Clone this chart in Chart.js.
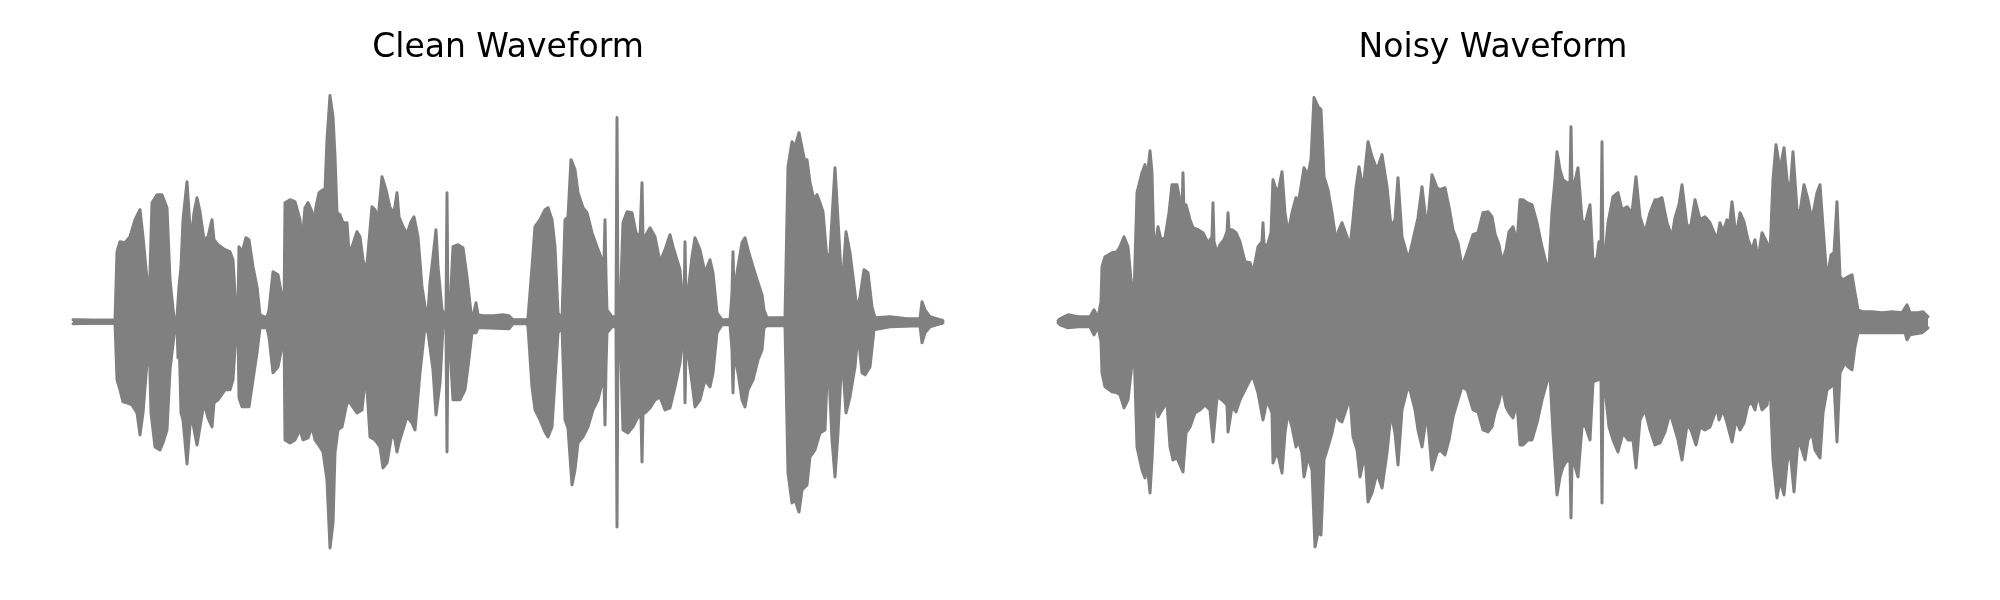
<!DOCTYPE html>
<html>
<head>
<meta charset="utf-8">
<script src="https://cdn.jsdelivr.net/npm/chart.js@4.4.1/dist/chart.umd.min.js"></script>
<style>
  html, body { margin: 0; padding: 0; background: #fff; }
  #wrap { position: relative; width: 2000px; height: 600px; }
  .panel { position: absolute; top: 0; width: 1000px; height: 600px; }
</style>
</head>
<body>
<div id="wrap">
  <div class="panel" style="left:0"><canvas id="cleanChart" width="1000" height="600"></canvas></div>
  <div class="panel" style="left:1000px"><canvas id="noisyChart" width="1000" height="600"></canvas></div>
</div>
<script>
// Waveform envelopes: [time, amplitude] pairs
const cleanUpper = [
  [0,2],[20,1.5],[42,1.5],[44,70],[47,80],[52,79],[57,85],[62,102],[67,112],[70,85],[74,42],[76,15],
  [79,119],[84,127],[89,127],[94,114],[97,42],[101,4],[104,5],[106,35],[108,55],[110,102],[114,140],
  [118,79],[121,109],[124,124],[127,110],[131,82],[135,85],[139,102],[141,82],[145,77],[152,72],[157,70],
  [160,62],[163,12],[165,12],[166,75],[169,69],[173,84],[176,82],[180,55],[184,35],[187,7],[194,4],[196,12],
  [200,50],[205,47],[209,25],[211,9],
  [212,119],[217,122],[222,120],[227,102],[229,79],[232,114],[235,119],[239,110],[240,90],[243,115],
  [246,129],[250,132],[252,132],[254,182],[257,226],[260,205],[262,165],[264,109],[267,107],[270,99],
  [274,99],[276,69],[279,75],[284,90],[287,85],[290,62],[293,49],[295,69],[299,115],[302,112],[305,102],
  [309,145],[313,132],[317,114],[321,109],[324,129],[326,105],[330,95],[334,88],[338,100],[341,105],
  [345,85],[349,35],[353,9],[355,9],[357,39],[360,65],[363,92],[365,55],[369,12],[372,6],[373,6],[374,129],
  [375,6],[377,12],[380,75],[385,77],[390,74],[394,45],[398,9],[400,5],[403,19],[405,7],[410,6],[420,6],
  [430,7],[436,6],[440,2],[454,2],
  [455,4],[459,55],[462,95],[467,102],[472,112],[475,114],[479,102],[482,75],[485,9],[489,2],[492,102],
  [495,105],[498,162],[502,152],[505,129],[510,114],[514,109],[519,89],[524,75],[529,62],[531,60],[532,102],
  [533,45],[534,12],[539,5],[543,5],[544,204],[545,5],[547,9],[550,99],[554,110],[559,109],[563,89],
  [567,85],[569,139],[570,85],[572,85],[577,94],[582,85],[587,60],[592,72],[597,87],[600,75],[607,52],
  [610,15],[611,15],[612,80],[613,20],[615,29],[619,65],[622,84],[627,72],[632,49],[637,62],[640,49],
  [644,9],[649,2],[657,2],
  [659,29],[660,70],[661,29],[665,55],[669,79],[672,84],[675,72],[680,55],[685,39],[689,27],[691,12],
  [694,4],[712,4],[715,155],[719,180],[722,175],[726,189],[729,174],[732,159],[734,162],[737,139],
  [741,122],[744,127],[747,119],[750,110],[754,62],[757,69],[760,120],[762,154],[765,102],[769,32],
  [773,90],[777,69],[780,45],[784,12],[787,25],[791,52],[795,49],[799,15],[802,4],[817,5],[834,3],
  [847,3],[849,20],[852,12],[857,5],[870,1]
];
const cleanLower = [
  [0,-2],[20,-1.5],[42,-1.5],[44,-58],[47,-68],[50,-80],[54,-81],[59,-83],[64,-91],[67,-113],[70,-91],
  [74,-41],[76,-11],[78,-91],[82,-125],[87,-128],[90,-121],[94,-108],[97,-48],[102,-5],[104,-5],[105,-36],
  [106,-12],[108,-91],[110,-98],[114,-142],[118,-91],[124,-123],[127,-105],[131,-81],[135,-96],[139,-105],
  [141,-81],[145,-78],[152,-68],[157,-68],[160,-58],[163,-11],[165,-8],[166,-76],[169,-85],[173,-85],
  [176,-85],[180,-58],[184,-31],[187,-6],[194,-6],[196,-15],[200,-51],[205,-45],[209,-25],[211,-6],
  [212,-118],[217,-121],[222,-118],[227,-108],[230,-118],[235,-116],[239,-105],[242,-118],[247,-125],
  [250,-130],[254,-158],[257,-226],[260,-201],[262,-131],[265,-108],[269,-105],[274,-81],[277,-81],
  [284,-91],[289,-88],[293,-51],[297,-115],[302,-118],[307,-125],[310,-146],[314,-141],[319,-111],
  [322,-118],[324,-130],[326,-121],[334,-95],[339,-101],[342,-108],[347,-51],[352,-5],[355,-11],[360,-48],
  [363,-93],[367,-61],[370,-5],[373,-6],[374,-130],[375,-6],[377,-25],[380,-78],[387,-78],[392,-68],
  [395,-45],[399,-11],[403,-11],[405,-6],[410,-6],[436,-7],[440,-2],[454,-2],
  [455,-5],[459,-65],[462,-88],[467,-98],[472,-110],[475,-115],[479,-105],[482,-58],[485,-11],[489,-5],
  [492,-98],[495,-106],[499,-163],[502,-148],[505,-121],[510,-115],[515,-105],[520,-88],[525,-78],
  [529,-61],[531,-60],[532,-103],[533,-45],[534,-11],[539,-5],[543,-5],[544,-205],[545,-5],[547,-11],
  [550,-108],[555,-111],[560,-105],[565,-95],[568,-95],[569,-140],[570,-92],[572,-91],[577,-86],[582,-78],
  [587,-75],[592,-88],[597,-86],[602,-65],[607,-41],[610,-11],[611,-11],[612,-81],[613,-25],[615,-31],
  [619,-61],[622,-85],[627,-78],[632,-58],[637,-65],[640,-51],[644,-11],[649,-3],[657,-3],
  [659,-28],[660,-71],[661,-31],[665,-51],[669,-78],[672,-85],[675,-68],[680,-58],[685,-38],[689,-28],
  [691,-6],[694,-4],[712,-4],[715,-151],[719,-181],[722,-178],[726,-190],[729,-168],[734,-163],[737,-135],
  [742,-128],[747,-111],[752,-108],[755,-31],[759,-118],[762,-155],[765,-111],[769,-31],[773,-91],
  [777,-75],[782,-45],[785,-11],[789,-51],[792,-53],[797,-45],[801,-8],[817,-5],[847,-4],[849,-21],
  [852,-11],[857,-5],[870,-1]
];
const noisyUpper = [
  [0,1],[2,3],[10,7],[20,5],[32,5],[36,12],[40,4],[43,20],[44,55],[47,65],[54,69],[59,70],[62,75],[66,85],
  [70,75],[73,42],[76,25],[79,129],[84,149],[87,157],[89,142],[92,171],[94,149],[96,69],[100,95],[103,82],
  [107,84],[111,109],[114,137],[119,137],[124,110],[125,149],[126,110],[128,117],[132,102],[135,94],
  [140,92],[145,89],[150,79],[154,85],[155,119],[156,80],[159,69],[162,77],[166,82],[169,90],[170,109],
  [171,92],[174,92],[178,89],[182,80],[187,60],[192,59],[195,49],[200,75],[204,80],[205,99],[206,78],
  [209,75],[213,89],[215,142],
  [217,135],[220,129],[224,150],[227,109],[230,89],[234,109],[238,124],[240,117],[243,135],[246,154],
  [250,147],[253,162],[256,224],[260,215],[263,212],[266,145],[270,132],[274,109],[278,82],[281,92],
  [284,99],[289,85],[292,75],[295,102],[298,134],[301,155],[305,132],[310,180],[314,165],[319,152],
  [324,167],[329,135],[333,95],[337,102],[340,144],[344,85],[349,67],[351,65],[355,82],[360,104],
  [364,135],[369,92],[374,147],[379,134],[382,132],[387,134],[391,115],[395,92],[400,79],[404,55],
  [409,69],[415,87],[420,89],[425,109],[430,110],[434,105],[437,88],
  [441,77],[444,60],[448,72],[451,90],[455,95],[459,79],[462,122],[465,122],[469,119],[474,117],[479,99],
  [484,75],[488,59],[491,54],[494,110],[497,142],[499,170],[502,152],[505,142],[509,139],[512,139],
  [513,195],[514,135],[515,132],[520,154],[524,102],[527,97],[532,117],[535,60],[539,64],[541,80],
  [543,80],[544,180],[545,60],[546,55],[550,99],[555,125],[560,129],[564,112],[569,115],[574,109],
  [578,145],[582,105],[587,89],[592,109],[597,122],[600,122],[604,124],[609,99],[614,85],[617,104],
  [621,117],[624,137],[629,95],[633,97],[637,122],[642,102],[647,105],[652,99],[657,87],
  [659,82],[662,99],[665,90],[669,102],[671,92],[674,120],[678,85],[682,109],[686,100],[690,82],[694,72],
  [697,82],[700,62],[704,89],[709,79],[712,69],[715,142],[718,177],[722,152],[726,174],[729,142],
  [732,129],[735,170],[739,112],[742,110],[746,137],[750,122],[754,102],[759,129],[762,137],[765,95],
  [769,42],[773,67],[776,69],[779,120],[782,45],[785,42],[790,45],[794,47],[797,29],[800,12],[805,10],
  [814,10],[824,9],[834,10],[844,9],[849,17],[852,9],[860,9],[865,10],[870,5]
];
const noisyLower = [
  [0,-1],[2,-3],[10,-6],[20,-5],[32,-5],[36,-13],[40,-5],[43,-20],[44,-51],[47,-65],[54,-70],[59,-71],
  [62,-73],[66,-86],[70,-78],[73,-51],[76,-25],[79,-125],[84,-148],[87,-156],[89,-141],[92,-171],[94,-138],
  [97,-71],[100,-95],[104,-88],[109,-81],[112,-125],[115,-138],[119,-136],[125,-150],[128,-111],[132,-105],
  [137,-91],[142,-88],[147,-83],[152,-88],[155,-120],[159,-75],[164,-78],[169,-83],[170,-110],[174,-85],
  [178,-90],[182,-78],[187,-68],[192,-58],[195,-55],[200,-71],[205,-98],[209,-78],[214,-91],[215,-141],
  [217,-135],[220,-133],[224,-151],[227,-111],[230,-91],[234,-105],[238,-125],[240,-118],[244,-131],
  [246,-155],[250,-135],[254,-148],[257,-225],[260,-211],[263,-213],[266,-138],[270,-125],[274,-111],
  [278,-91],[281,-98],[284,-100],[289,-85],[292,-75],[295,-115],[299,-128],[302,-155],[307,-131],
  [310,-180],[314,-171],[319,-151],[324,-166],[329,-131],[333,-91],[337,-111],[340,-143],[344,-88],
  [349,-68],[352,-68],[357,-88],[360,-108],[364,-125],[369,-91],[374,-148],[379,-131],[382,-128],
  [387,-133],[391,-118],[395,-95],[400,-78],[404,-65],[409,-68],[415,-88],[420,-90],[425,-108],
  [430,-110],[434,-105],[437,-91],
  [441,-80],[444,-65],[448,-85],[451,-91],[455,-96],[459,-81],[462,-123],[465,-123],[470,-118],[474,-118],
  [479,-101],[484,-78],[489,-60],[492,-53],[495,-111],[499,-173],[502,-155],[505,-145],[509,-138],
  [512,-140],[513,-196],[514,-141],[516,-141],[520,-155],[524,-105],[527,-103],[532,-118],[535,-60],
  [540,-58],[543,-58],[544,-181],[545,-58],[546,-58],[551,-105],[555,-118],[560,-130],[565,-111],
  [570,-118],[575,-118],[578,-146],[582,-98],[587,-88],[592,-108],[597,-123],[602,-121],[607,-110],
  [612,-91],[615,-101],[620,-118],[624,-138],[629,-103],[633,-108],[638,-123],[642,-105],[647,-108],
  [652,-105],[657,-91],
  [659,-85],[661,-98],[665,-88],[669,-101],[674,-120],[678,-98],[682,-108],[686,-101],[690,-83],
  [694,-81],[697,-88],[700,-73],[704,-88],[709,-83],[712,-61],[715,-138],[719,-176],[722,-158],
  [726,-173],[729,-141],[732,-128],[736,-170],[740,-118],[744,-128],[747,-138],[750,-118],[754,-111],
  [757,-128],[762,-136],[765,-91],[769,-68],[773,-65],[776,-61],[779,-120],[782,-51],[787,-41],
  [790,-45],[794,-48],[797,-25],[800,-11],[807,-11],[847,-11],[849,-18],[852,-13],[864,-11],[870,-6]
];

const GRAY = '#808080';

function waveChart(id, title, upper, lower, padLeft, padRight) {
    const toPts = arr => arr.map(([x, y]) => ({ x, y }));
    const style = {
        borderColor: GRAY,
        backgroundColor: GRAY,
        borderWidth: 3,
        pointRadius: 0,
        tension: 0,
        borderJoinStyle: 'round',
        borderCapStyle: 'round',
        clip: false
    };
    new Chart(document.getElementById(id), {
        type: 'line',
        data: {
            datasets: [
                // fill a little past zero so the two halves overlap (no seam)
                { ...style, data: toPts(upper), fill: { target: { value: -3 } } },
                { ...style, data: toPts(lower), fill: { target: { value: 3 } } }
            ]
        },
        options: {
            responsive: false,
            animation: false,
            devicePixelRatio: 1,
            events: [],
            layout: { padding: { left: padLeft, right: padRight, top: 0, bottom: 46 } },
            scales: {
                x: { type: 'linear', min: 0, max: 870, display: false },
                y: { min: -232, max: 232, display: false }
            },
            plugins: {
                legend: { display: false },
                tooltip: { enabled: false },
                title: {
                    display: true,
                    text: title,
                    color: '#000000',
                    font: { family: "'DejaVu Sans', sans-serif", size: 33, weight: 'normal' },
                    padding: { top: 29, bottom: 21 }
                }
            }
        }
    });
}

waveChart('cleanChart', 'Clean Waveform', cleanUpper, cleanLower, 73, 57);
waveChart('noisyChart', 'Noisy Waveform', noisyUpper, noisyLower, 58, 72);
</script>
</body>
</html>
